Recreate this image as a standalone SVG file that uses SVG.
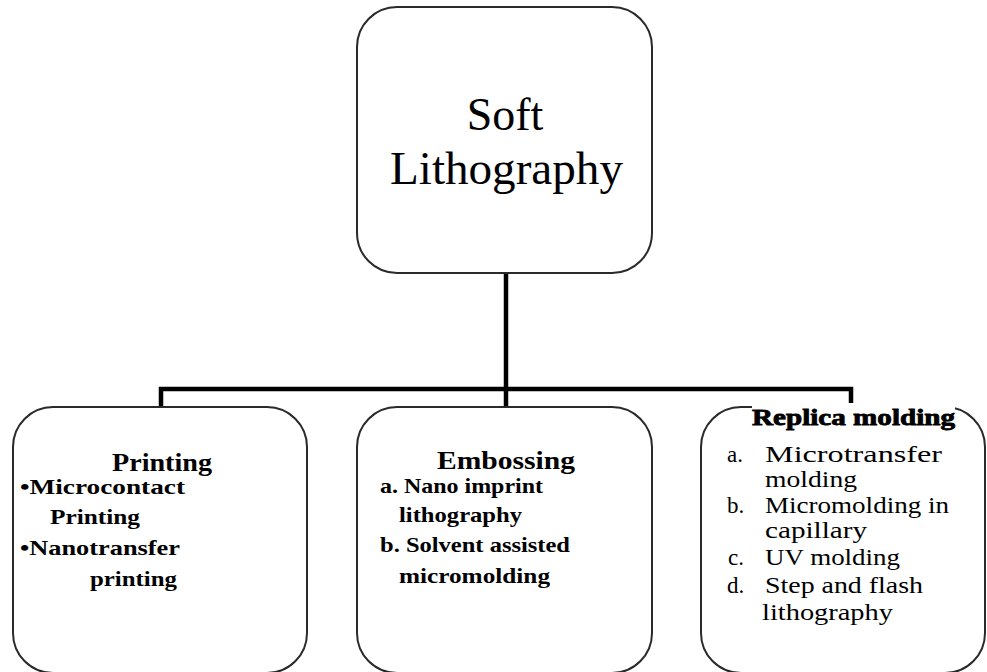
<svg xmlns="http://www.w3.org/2000/svg" width="987" height="672" viewBox="0 0 987 672">
  <style>
    .box { fill: #ffffff; stroke: #2a2a2a; stroke-width: 2; }
    .wire { fill: none; stroke: #000000; stroke-width: 4.5; stroke-linejoin: miter; }
    .t { fill: #000000; }
    .title { font-size: 46px; }
    .head { font-size: 26px; font-weight: bold; }
    .item { font-size: 22px; font-weight: bold; }
    .ritem { font-size: 23px; }
  </style>
  <rect width="987" height="672" fill="#ffffff"/>

  <!-- connectors: trunk from the root, bus bar, and three drops -->
  <g id="connectors">
    <path class="wire" d="M506 273 V389"/>
    <path class="wire" d="M161 406 V389 H851 V406"/>
    <path class="wire" d="M506 389 V406"/>
  </g>

  <g font-family="'Liberation Serif', 'Times New Roman', Times, serif">
    <g id="root">
      <rect class="box" x="357" y="7" width="295" height="266" rx="40" ry="40"/>
      <text class="t title" x="505" y="130" text-anchor="middle">Soft</text>
      <text class="t title" x="390" y="184" textLength="233" lengthAdjust="spacingAndGlyphs">Lithography</text>
    </g>

    <g id="printing">
      <rect class="box" x="13" y="407" width="294" height="266" rx="40" ry="40"/>
      <text class="t head" x="112" y="471" textLength="100" lengthAdjust="spacingAndGlyphs">Printing</text>
      <text class="t item" x="20" y="494" textLength="165" lengthAdjust="spacingAndGlyphs">•Microcontact</text>
      <text class="t item" x="50" y="524" textLength="90" lengthAdjust="spacingAndGlyphs">Printing</text>
      <text class="t item" x="20" y="555" textLength="160" lengthAdjust="spacingAndGlyphs">•Nanotransfer</text>
      <text class="t item" x="90" y="586" textLength="87" lengthAdjust="spacingAndGlyphs">printing</text>
    </g>

    <g id="embossing">
      <rect class="box" x="357" y="407" width="295" height="266" rx="40" ry="40"/>
      <text class="t head" x="437" y="469" textLength="138" lengthAdjust="spacingAndGlyphs">Embossing</text>
      <text class="t item" x="380" y="493" textLength="163" lengthAdjust="spacingAndGlyphs">a. Nano imprint</text>
      <text class="t item" x="399" y="522" textLength="123" lengthAdjust="spacingAndGlyphs">lithography</text>
      <text class="t item" x="380" y="552" textLength="190" lengthAdjust="spacingAndGlyphs">b. Solvent assisted</text>
      <text class="t item" x="399" y="583" textLength="151" lengthAdjust="spacingAndGlyphs">micromolding</text>
    </g>

    <g id="replica-molding">
      <rect class="box" x="701" y="407" width="284" height="266" rx="40" ry="40"/>
      <rect x="752" y="403" width="203" height="24" fill="#ffffff"/>
      <text class="t" x="752" y="425" font-size="23" font-weight="bold" stroke="#000" stroke-width="0.8" textLength="203" lengthAdjust="spacingAndGlyphs">Replica molding</text>
      <text class="t ritem" x="727" y="462">a.</text>
      <text class="t ritem" x="765" y="462" textLength="177" lengthAdjust="spacingAndGlyphs">Microtransfer</text>
      <text class="t ritem" x="765" y="487" textLength="92" lengthAdjust="spacingAndGlyphs">molding</text>
      <text class="t ritem" x="727" y="513">b.</text>
      <text class="t ritem" x="765" y="513" textLength="184" lengthAdjust="spacingAndGlyphs">Micromolding in</text>
      <text class="t ritem" x="765" y="538" textLength="102" lengthAdjust="spacingAndGlyphs">capillary</text>
      <text class="t ritem" x="728" y="565">c.</text>
      <text class="t ritem" x="765" y="565" textLength="135" lengthAdjust="spacingAndGlyphs">UV molding</text>
      <text class="t ritem" x="727" y="593">d.</text>
      <text class="t ritem" x="765" y="593" textLength="158" lengthAdjust="spacingAndGlyphs">Step and flash</text>
      <text class="t ritem" x="762" y="620" textLength="131" lengthAdjust="spacingAndGlyphs">lithography</text>
    </g>
  </g>
</svg>
